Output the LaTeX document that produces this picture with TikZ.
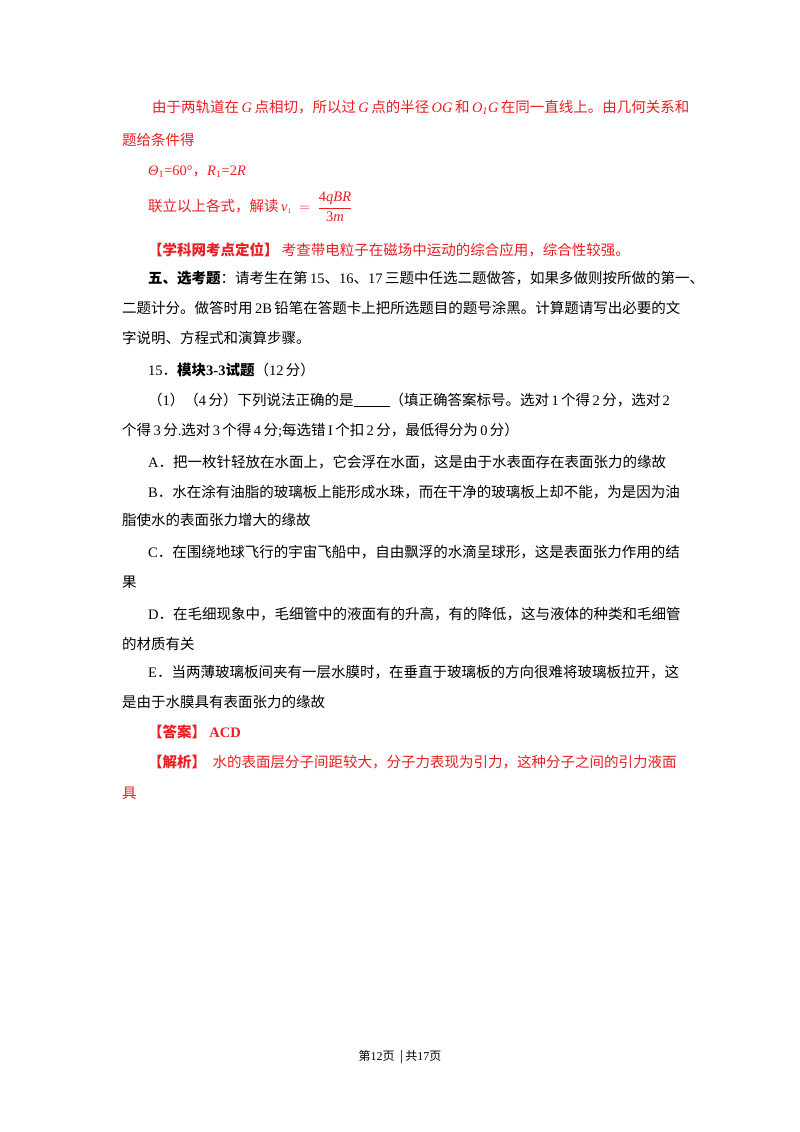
\documentclass[tikz,border=0pt]{standalone}
\usepackage{fontspec}
\setmainfont{Liberation Serif}
\newfontfamily\cjk{Noto Sans CJK SC}
\definecolor{rd}{RGB}{235,30,35}
\begin{document}
\begin{tikzpicture}[x=1pt,y=-1pt,
  ln/.style={anchor=west,inner sep=0pt,font=\fontsize{14.5}{16}\selectfont\cjk},
  red/.style={ln,text=rd}]
\useasboundingbox[fill=white] (0,0) rectangle (800,1132);
\node[red] (l1) at (152,107) {由于两轨道在\,{\rmfamily\itshape G}\,点相切，所以过\,{\rmfamily\itshape G}\,点的半径\,{\rmfamily\itshape OG}\,和\,{\rmfamily\itshape O\textsubscript{1}G}\,在同一直线上。由几何关系和};
\node[red] (l2) at (122,140) {题给条件得};
\node[red] (l3) at (148,172) {{\rmfamily\itshape Θ}{\rmfamily\textsubscript{1}=60°}，{\rmfamily\itshape R}{\rmfamily\textsubscript{1}=2\textit{R}}};
\node[red] (l4) at (148,207) {联立以上各式，解读\,{\rmfamily$\displaystyle \mbox{\itshape v}_{\mbox{\scriptsize 1}}\mbox{ }=\mbox{ }\frac{\mbox{4\itshape qBR}}{\mbox{3\itshape m}}$}};
\node[red] (l5) at (148,250) {\textbf{【学科网考点定位】}\ 考查带电粒子在磁场中运动的综合应用，综合性较强。};
\node[ln] (l6) at (148,278) {\textbf{五、选考题}：请考生在第\,{\rmfamily 15}、{\rmfamily 16}、{\rmfamily 17}\,三题中任选二题做答，如果多做则按所做的第一、};
\node[ln] (l7) at (122,308) {二题计分。做答时用\,{\rmfamily 2B}\,铅笔在答题卡上把所选题目的题号涂黑。计算题请写出必要的文};
\node[ln] (l8) at (122,338) {字说明、方程式和演算步骤。};
\node[ln] (l9) at (148,370) {{\rmfamily 15}．\textbf{模块{\rmfamily\bfseries 3-3}试题}（{\rmfamily 12}\,分）};
\node[ln] (l10) at (148,400) {（{\rmfamily 1}）（{\rmfamily 4}\,分）下列说法正确的是\rule[-2pt]{36pt}{1.2pt}（填正确答案标号。选对\,{\rmfamily 1}\,个得\,{\rmfamily 2}\,分，选对\,{\rmfamily 2}};
\node[ln] (l11) at (122,430) {个得\,{\rmfamily 3}\,分{\rmfamily .}选对\,{\rmfamily 3}\,个得\,{\rmfamily 4}\,分{\rmfamily ;}每选错\,{\rmfamily I}\,个扣\,{\rmfamily 2}\,分，最低得分为\,{\rmfamily 0}\,分）};
\node[ln] (l12) at (148,462) {{\rmfamily A}．把一枚针轻放在水面上，它会浮在水面，这是由于水表面存在表面张力的缘故};
\node[ln] (l13) at (148,492) {{\rmfamily B}．水在涂有油脂的玻璃板上能形成水珠，而在干净的玻璃板上却不能，为是因为油};
\node[ln] (l14) at (122,520) {脂使水的表面张力增大的缘故};
\node[ln] (l15) at (148,552) {{\rmfamily C}．在围绕地球飞行的宇宙飞船中，自由飘浮的水滴呈球形，这是表面张力作用的结};
\node[ln] (l16) at (122,582) {果};
\node[ln] (l17) at (148,614) {{\rmfamily D}．在毛细现象中，毛细管中的液面有的升高，有的降低，这与液体的种类和毛细管};
\node[ln] (l18) at (122,644) {的材质有关};
\node[ln] (l19) at (148,672) {{\rmfamily E}．当两薄玻璃板间夹有一层水膜时，在垂直于玻璃板的方向很难将玻璃板拉开，这};
\node[ln] (l20) at (122,702) {是由于水膜具有表面张力的缘故};
\node[red] (l21) at (148,732) {\textbf{【答案】}\ {\rmfamily\bfseries ACD}};
\node[red] (l22) at (148,762) {\textbf{【解析】}\ \ 水的表面层分子间距较大，分子力表现为引力，这种分子之间的引力液面};
\node[red] (l23) at (122,793) {具};
\node[anchor=center,inner sep=0pt,font=\fontsize{12}{14}\selectfont\cjk] (ft) at (400,1057) {第{\rmfamily 12}页\ \ |\,共{\rmfamily 17}页};
\end{tikzpicture}
\end{document}
